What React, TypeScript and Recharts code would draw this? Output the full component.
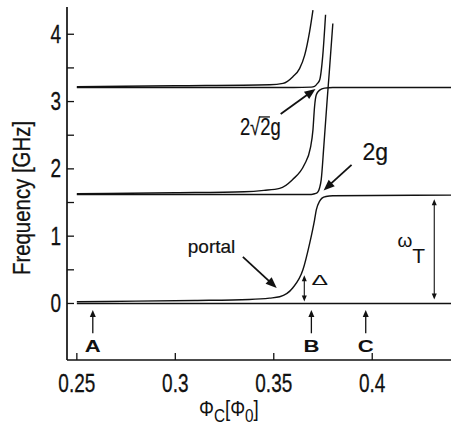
import React from 'react';
import { ComposedChart, Line, XAxis, YAxis, ReferenceLine, ReferenceDot } from 'recharts';

const FONT = '"Liberation Sans", Arial, Helvetica, sans-serif';
const INK = '#111';

// axis ticks
const xTicks = [0.25, 0.3, 0.35, 0.4];
const xTickLabels = ['0.25', '0.3', '0.35', '0.4'];
const yTicks = [0, 0.5, 1, 1.5, 2, 2.5, 3, 3.5, 4];
const yTickLabels = ['0', '', '1', '', '2', '', '3', '', '4'];

// energy levels [flux Φc, frequency GHz]
const level0: number[][] = [[0.25, 0], [0.44, 0]];
const level1: number[][] = [
  [0.25, 0.025], [0.28, 0.035], [0.31, 0.045], [0.3376, 0.06], [0.3479, 0.08], [0.353, 0.1],
  [0.3596, 0.23], [0.3648, 0.5], [0.3682, 0.89], [0.3707, 1.24], [0.3716, 1.39], [0.3733, 1.52],
  [0.3745, 1.565], [0.3765, 1.59], [0.38, 1.6], [0.44, 1.61],
];
const level2: number[][] = [
  [0.25, 1.62], [0.36, 1.62], [0.369, 1.62], [0.3707, 1.63], [0.3722, 1.65], [0.3733, 1.72],
  [0.3741, 1.84], [0.3754, 2.33], [0.3771, 3.02], [0.3782, 3.44], [0.38, 4.16],
];
const level3: number[][] = [
  [0.25, 1.63], [0.3, 1.645], [0.335, 1.66], [0.345, 1.68], [0.353, 1.71], [0.3595, 1.84],
  [0.3655, 2.06], [0.3686, 2.31], [0.3699, 2.58], [0.3707, 2.92], [0.3716, 3.1], [0.3733, 3.17],
  [0.3758, 3.2], [0.38, 3.21], [0.44, 3.21],
];
const level4: number[][] = [
  [0.25, 3.21], [0.3, 3.21], [0.36, 3.21], [0.369, 3.215], [0.3707, 3.225], [0.3722, 3.27],
  [0.3733, 3.32], [0.3749, 3.69], [0.3763, 4.29],
];
const level5: number[][] = [
  [0.25, 3.22], [0.3, 3.235], [0.3479, 3.25], [0.3547, 3.27], [0.3597, 3.37], [0.3631, 3.49],
  [0.3657, 3.69], [0.3682, 4.04], [0.3699, 4.36],
];
const levels = [level0, level1, level2, level3, level4, level5];

// marker positions A, B, C
const markerNames = ['A', 'B', 'C'];
const markerX = [0.2581, 0.3691, 0.3967];

const toPts = (arr: number[][]) => arr.map(([x, y]) => ({ x, y }));

const Arrow = (p: any) => {
  const { x1, y1, x2, y2, head = 9, half = 3.5, both = false, sw = 1.4 } = p;
  const dx = x2 - x1;
  const dy = y2 - y1;
  const len = Math.sqrt(dx * dx + dy * dy) || 1;
  const ux = dx / len;
  const uy = dy / len;
  const tri = (tx: number, ty: number, vx: number, vy: number) => {
    const bx = tx - vx * head;
    const by = ty - vy * head;
    return `${tx},${ty} ${bx - vy * half},${by + vx * half} ${bx + vy * half},${by - vx * half}`;
  };
  const sx = both ? x1 + ux * head * 0.8 : x1;
  const sy = both ? y1 + uy * head * 0.8 : y1;
  return (
    <g>
      <line x1={sx} y1={sy} x2={x2 - ux * head * 0.8} y2={y2 - uy * head * 0.8} stroke={INK} strokeWidth={sw} />
      <polygon points={tri(x2, y2, ux, uy)} fill={INK} />
      {both && <polygon points={tri(x1, y1, -ux, -uy)} fill={INK} />}
    </g>
  );
};

const BottomTick = (p: any) => {
  const { x, y, payload } = p;
  const i = xTicks.indexOf(payload.value);
  return (
    <g>
      <line x1={x} y1={y} x2={x} y2={y - 7} stroke={INK} strokeWidth={1.3} />
      <text transform={`translate(${x},${y + 32}) scale(0.76,1)`} textAnchor="middle" fontSize={25} fontFamily={FONT} fill={INK} stroke={INK} strokeWidth={0.3}>
        {xTickLabels[i]}
      </text>
    </g>
  );
};
const TopTick = (p: any) => {
  const { x, y } = p;
  return <line x1={x} y1={y} x2={x} y2={y + 7} stroke={INK} strokeWidth={1.3} />;
};
const LeftTick = (p: any) => {
  const { x, y, payload } = p;
  const i = yTicks.indexOf(payload.value);
  return (
    <g>
      <line x1={x} y1={y} x2={x + 7} y2={y} stroke={INK} strokeWidth={1.3} />
      <text transform={`translate(${x - 6},${y + 8.5}) scale(0.76,1)`} textAnchor="end" fontSize={25} fontFamily={FONT} fill={INK} stroke={INK} strokeWidth={0.3}>
        {yTickLabels[i]}
      </text>
    </g>
  );
};
const RightTick = (p: any) => {
  const { x, y } = p;
  return <line x1={x} y1={y} x2={x - 6} y2={y} stroke={INK} strokeWidth={1.3} />;
};

const YLabel = (p: any) => {
  const vb = p.viewBox || { x: 0, y: 7, width: 67, height: 353 };
  const cx = vb.x + 30;
  const cy = vb.y + vb.height / 2 + 14.5;
  return (
    <text transform={`translate(${cx},${cy}) rotate(-90) scale(0.85,1)`} textAnchor="middle" fontSize={24} fontFamily={FONT} fill={INK} stroke={INK} strokeWidth={0.3}>
      Frequency [GHz]
    </text>
  );
};
const XLabel = (p: any) => {
  const vb = p.viewBox || { x: 67, y: 360, width: 384, height: 68 };
  const sx = vb.x + 132;
  const sy = vb.y + 56;
  return (
    <text transform={`translate(${sx},${sy}) scale(0.85,1)`} fontSize={22} fontFamily={FONT} fill={INK}>
      Φ<tspan fontSize={18} dy={6}>C</tspan>
      <tspan fontSize={22} dy={-6}>[Φ</tspan>
      <tspan fontSize={18} dy={6}>0</tspan>
      <tspan fontSize={22} dy={-6}>]</tspan>
    </text>
  );
};

export default function App() {
  return (
    <div style={{ position: 'absolute', left: 0, top: 0, width: 451, height: 428, background: '#fff' }}>
      <ComposedChart width={451} height={428} margin={{ top: 7, right: 0, bottom: 0, left: 0 }}>
        <XAxis
          xAxisId={0}
          dataKey="x"
          type="number"
          domain={[0.245, 0.44]}
          allowDataOverflow
          ticks={xTicks}
          height={68}
          tickSize={0}
          tickMargin={0}
          tickLine={false}
          tick={BottomTick}
          axisLine={{ stroke: INK, strokeWidth: 1.7 }}
          label={XLabel}
        />
        <XAxis
          xAxisId="top"
          orientation="top"
          dataKey="x"
          type="number"
          domain={[0.245, 0.44]}
          allowDataOverflow
          ticks={xTicks}
          height={0}
          tickSize={0}
          tickMargin={0}
          tickLine={false}
          tick={TopTick}
          axisLine={{ stroke: INK, strokeWidth: 1.6 }}
        />
        <YAxis
          yAxisId={0}
          type="number"
          domain={[-0.84, 4.405]}
          allowDataOverflow
          ticks={yTicks}
          width={67}
          tickSize={0}
          tickMargin={0}
          tickLine={false}
          tick={LeftTick}
          axisLine={{ stroke: INK, strokeWidth: 1.7 }}
          label={YLabel}
        />
        <YAxis
          yAxisId="right"
          orientation="right"
          type="number"
          domain={[-0.84, 4.405]}
          allowDataOverflow
          ticks={yTicks}
          width={0}
          tickSize={0}
          tickMargin={0}
          tickLine={false}
          tick={RightTick}
          axisLine={false}
        />
        {levels.map((lv, i) => (
          <Line
            key={i}
            data={toPts(lv)}
            dataKey="y"
            type="monotone"
            stroke={INK}
            strokeWidth={1.4}
            dot={false}
            activeDot={false}
            isAnimationActive={false}
          />
        ))}

        {/* arrows */}
        <ReferenceLine segment={[{ x: 0.3343, y: 0.691 }, { x: 0.3515, y: 0.23 }]} shape={(p: any) => <Arrow {...p} head={11} half={4.5} sw={1.8} />} />
        <ReferenceLine segment={[{ x: 0.3895, y: 2.06 }, { x: 0.3753, y: 1.68 }]} shape={(p: any) => <Arrow {...p} head={11} half={4.5} sw={1.8} />} />
        <ReferenceLine segment={[{ x: 0.3535, y: 2.816 }, { x: 0.3712, y: 3.187 }]} shape={(p: any) => <Arrow {...p} head={11} half={4.5} sw={1.8} />} />
        <ReferenceLine segment={[{ x: 0.3655, y: 0.03 }, { x: 0.3655, y: 0.42 }]} shape={(p: any) => <Arrow {...p} head={6} half={2.5} sw={1.1} both />} />
        <ReferenceLine segment={[{ x: 0.4315, y: 0.06 }, { x: 0.4315, y: 1.55 }]} shape={(p: any) => <Arrow {...p} head={6} half={2.5} sw={1.1} both />} />
        {markerX.map((mx, i) => (
          <ReferenceLine key={'m' + i} segment={[{ x: mx, y: -0.443 }, { x: mx, y: -0.097 }]} shape={(p: any) => <Arrow {...p} head={7} half={3} sw={1.3} />} />
        ))}

        {/* texts */}
        {markerX.map((mx, i) => (
          <ReferenceDot
            key={'t' + i}
            x={mx}
            y={-0.72}
            r={0}
            shape={(p: any) => (
              <text transform={`translate(${p.cx},${p.cy}) scale(1.3,1)`} textAnchor="middle" fontSize={17} fontWeight="bold" fontFamily={FONT} fill={INK}>
                {markerNames[i]}
              </text>
            )}
          />
        ))}
        <ReferenceDot
          x={0.3184}
          y={0.75}
          r={0}
          shape={(p: any) => (
            <text x={p.cx} y={p.cy} textAnchor="middle" fontSize={19} fontFamily={FONT} fill={INK} stroke={INK} strokeWidth={0.2}>portal</text>
          )}
        />
        <ReferenceDot
          x={0.4016}
          y={2.132}
          r={0}
          shape={(p: any) => (
            <text x={p.cx} y={p.cy} textAnchor="middle" fontSize={23} fontFamily={FONT} fill={INK} stroke={INK} strokeWidth={0.2}>2g</text>
          )}
        />
        <ReferenceDot
          x={0.3328}
          y={2.504}
          r={0}
          shape={(p: any) => (
            <g transform={`translate(${p.cx},${p.cy})`}>
              <text transform="scale(0.8,1)" fontSize={23} fontFamily={FONT} fill={INK} stroke={INK} strokeWidth={0.2}>2√2g</text>
              <line x1={19} y1={-18} x2={30} y2={-18} stroke={INK} strokeWidth={1.3} />
            </g>
          )}
        />
        <ReferenceDot
          x={0.3691}
          y={0.275}
          r={0}
          shape={(p: any) => (
            <text transform={`translate(${p.cx},${p.cy}) scale(1.6,1)`} fontSize={15.5} fontFamily={FONT} fill={INK}>Δ</text>
          )}
        />
        <ReferenceDot
          x={0.4128}
          y={0.84}
          r={0}
          shape={(p: any) => (
            <text x={p.cx} y={p.cy} fontSize={19} fontFamily={FONT} fill={INK}>
              ω<tspan fontSize={21} dy={16}>T</tspan>
            </text>
          )}
        />
      </ComposedChart>
    </div>
  );
}
